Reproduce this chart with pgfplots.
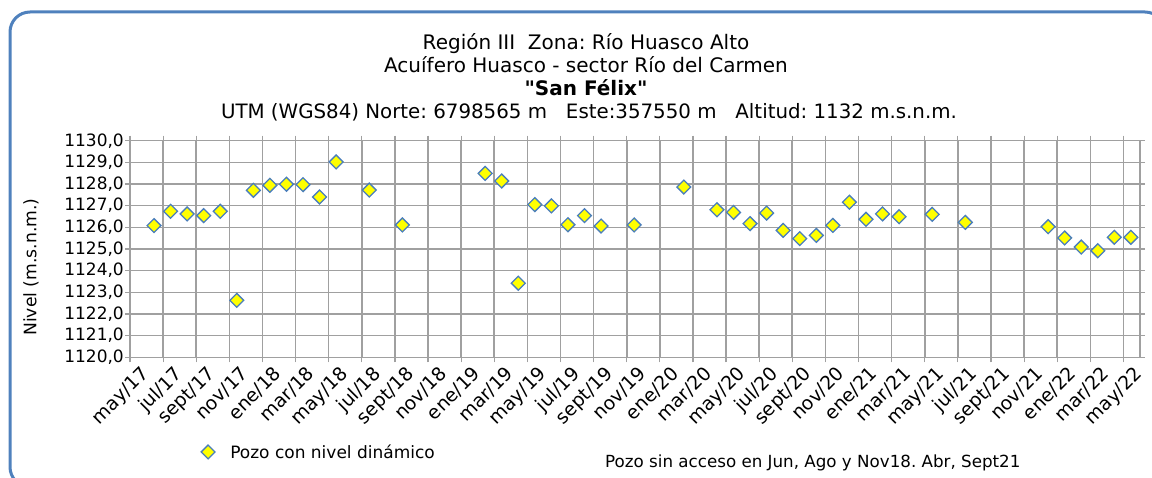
\documentclass[border=0pt]{standalone}
\usepackage{pgfplots}
\pgfplotsset{compat=1.18}
\usepackage{fontspec}
\setmainfont{DejaVu Sans}
\newfontfamily\qfont{DejaVu Sans}
\frenchspacing
\definecolor{framecol}{RGB}{79,129,189}
\definecolor{markedge}{RGB}{74,126,187}
\definecolor{gridcol}{RGB}{160,160,160}
\definecolor{mkyellow}{RGB}{255,255,0}
\begin{document}
\begin{tikzpicture}[x=1pt,y=1pt]
\useasboundingbox (0,0) rectangle (1152,477);
\clip (0,0) rectangle (1152,477);
\draw[framecol, line width=3pt, rounded corners=20pt] (10,-10) rectangle (1165,465);
% titles
\node[anchor=base, font=\fontsize{20}{22}\selectfont, inner sep=0] at (586,427) {Región III\ \ Zona: Río Huasco Alto};
\node[anchor=base, font=\fontsize{20}{22}\selectfont, inner sep=0] at (586,404) {Acuífero Huasco - sector Río del Carmen};
\node[anchor=base, font=\fontsize{20}{22}\selectfont\qfont\bfseries, inner sep=0] at (586,381) {"San Félix"};
\node[anchor=base, font=\fontsize{19.8}{22}\selectfont, inner sep=0] at (589,358) {UTM (WGS84) Norte: 6798565 m\ \ \ Este:357550 m\ \ \ Altitud: 1132 m.s.n.m.};
% y label
\node[rotate=90, font=\fontsize{17.2}{20}\selectfont, inner sep=0] at (31,210) {Nivel (m.s.n.m.)};
% note
\node[anchor=west, font=\fontsize{16.7}{19}\selectfont, inner sep=0] at (605,14) {Pozo sin acceso en Jun, Ago y Nov18. Abr, Sept21};
\begin{axis}[
  at={(130pt,119.7pt)}, anchor=south west,
  scale only axis, width=1010pt, height=216.6pt,
  xmin=0, xmax=61, ymin=1120, ymax=1130,
  xtick={0,2,...,60},
  xticklabels={may/17,jul/17,sept/17,nov/17,ene/18,mar/18,may/18,jul/18,sept/18,nov/18,ene/19,mar/19,may/19,jul/19,sept/19,nov/19,ene/20,mar/20,may/20,jul/20,sept/20,nov/20,ene/21,mar/21,may/21,jul/21,sept/21,nov/21,ene/22,mar/22,may/22},
  ytick={1120,1121,1122,1123,1124,1125,1126,1127,1128,1129,1130},
  yticklabels={{1120,0},{1121,0},{1122,0},{1123,0},{1124,0},{1125,0},{1126,0},{1127,0},{1128,0},{1129,0},{1130,0}},
  xticklabel style={xshift=10pt, yshift=-1pt, rotate=45, anchor=north east, font=\fontsize{18.8}{20}\selectfont, inner sep=1pt},
  yticklabel style={font=\fontsize{17}{19}\selectfont, inner sep=1pt},
  grid=major,
  major grid style={gridcol, line width=1.6pt},
  axis line style={gridcol, line width=1.6pt},
  tick style={gridcol, line width=1.2pt},
  tick align=center, major tick length=10pt,
  legend style={at={(0.066,-0.437)}, anchor=west, draw=none, fill=none, font=\fontsize{17}{20}\selectfont},
  legend cell align=left,
  legend image code/.code={\draw[#1] plot coordinates {(0pt,0pt)}; \path (-8pt,0pt) (20pt,0pt);},
]
\addplot[only marks, mark=square*, mark size=4.9pt,
  mark options={rotate=45, fill=mkyellow, draw=markedge, line width=1.3pt}]
coordinates {
(1.45,1126.08) (2.45,1126.74) (3.45,1126.62) (4.45,1126.54) (5.45,1126.74)
(6.45,1122.63) (7.45,1127.71) (8.45,1127.94) (9.45,1127.99) (10.45,1127.97)
(11.45,1127.40) (12.45,1129.02) (14.45,1127.72) (16.45,1126.11)
(21.45,1128.49) (22.45,1128.14) (23.45,1123.42) (24.45,1127.05) (25.45,1126.99)
(26.45,1126.12) (27.45,1126.54) (28.45,1126.06) (30.45,1126.11) (33.45,1127.86)
(35.45,1126.81) (36.45,1126.69) (37.45,1126.17) (38.45,1126.66) (39.45,1125.86)
(40.45,1125.48) (41.45,1125.63) (42.45,1126.09) (43.45,1127.16) (44.45,1126.37)
(45.45,1126.62) (46.45,1126.49) (48.45,1126.60) (50.45,1126.23)
(55.45,1126.03) (56.45,1125.51) (57.45,1125.09) (58.45,1124.92) (59.45,1125.54) (60.45,1125.54)
};
\addlegendentry{Pozo con nivel dinámico}
\end{axis}
\end{tikzpicture}
\end{document}
